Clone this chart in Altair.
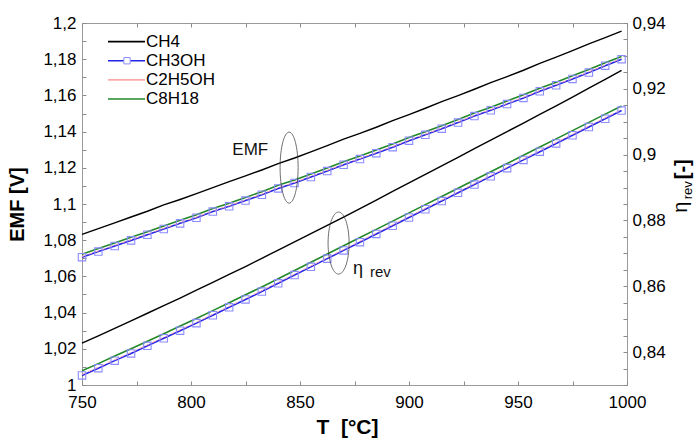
import altair as alt
import pandas as pd

# ---------------- data ----------------
T = [750.0, 757.5, 765.0, 772.5, 780.0, 787.5, 795.0, 802.5, 810.0, 817.5,
     825.0, 832.5, 840.0, 847.5, 855.0, 862.5, 870.0, 877.5, 885.0, 892.5,
     900.0, 907.5, 915.0, 922.5, 930.0, 937.5, 945.0, 952.5, 960.0, 967.5,
     975.0, 982.5, 990.0, 997.5]

EMF_CH4 = [1.0832, 1.0864, 1.0896, 1.0928, 1.0960, 1.0995, 1.1025, 1.1057, 1.1090, 1.1124,
           1.1155, 1.1188, 1.1223, 1.1254, 1.1288, 1.1322, 1.1358, 1.1390, 1.1424, 1.1461,
           1.1494, 1.1529, 1.1566, 1.1599, 1.1634, 1.1671, 1.1704, 1.1739, 1.1777, 1.1811,
           1.1847, 1.1885, 1.1919, 1.1955]
EMF_CH3OH = [1.0706, 1.0737, 1.0768, 1.0799, 1.0830, 1.0862, 1.0893, 1.0924, 1.0958, 1.0987,
             1.1019, 1.1051, 1.1086, 1.1116, 1.1149, 1.1182, 1.1217, 1.1248, 1.1281, 1.1314,
             1.1350, 1.1382, 1.1416, 1.1450, 1.1486, 1.1518, 1.1552, 1.1586, 1.1623, 1.1656,
             1.1691, 1.1726, 1.1764, 1.1800]
EMF_C2H5OH = [1.0710, 1.0741, 1.0772, 1.0803, 1.0834, 1.0866, 1.0897, 1.0928, 1.0962, 1.0991,
              1.1023, 1.1055, 1.1090, 1.1120, 1.1153, 1.1186, 1.1221, 1.1252, 1.1285, 1.1318,
              1.1354, 1.1386, 1.1420, 1.1454, 1.1490, 1.1522, 1.1556, 1.1590, 1.1627, 1.1660,
              1.1695, 1.1730, 1.1768, 1.1804]
EMF_C8H18 = [1.0723, 1.0754, 1.0785, 1.0816, 1.0847, 1.0879, 1.0910, 1.0941, 1.0975, 1.1004,
             1.1036, 1.1068, 1.1103, 1.1133, 1.1166, 1.1199, 1.1234, 1.1265, 1.1298, 1.1331,
             1.1367, 1.1399, 1.1433, 1.1467, 1.1503, 1.1535, 1.1569, 1.1603, 1.1640, 1.1673,
             1.1708, 1.1743, 1.1781, 1.1815]

ETA_CH4 = [0.8427, 0.8449, 0.8472, 0.8495, 0.8518, 0.8541, 0.8564, 0.8588, 0.8612, 0.8636,
           0.8660, 0.8685, 0.8710, 0.8735, 0.8760, 0.8785, 0.8810, 0.8836, 0.8862, 0.8888,
           0.8914, 0.8940, 0.8966, 0.8992, 0.9018, 0.9044, 0.9070, 0.9096, 0.9122, 0.9148,
           0.9175, 0.9202, 0.9229, 0.9256]
ETA_CH3OH = [0.8329, 0.8351, 0.8374, 0.8396, 0.8419, 0.8442, 0.8465, 0.8488, 0.8512, 0.8536,
             0.8560, 0.8584, 0.8609, 0.8634, 0.8659, 0.8684, 0.8709, 0.8734, 0.8759, 0.8784,
             0.8809, 0.8834, 0.8859, 0.8884, 0.8909, 0.8934, 0.8959, 0.8984, 0.9009, 0.9034,
             0.9059, 0.9084, 0.9109, 0.9134]
ETA_C2H5OH = [0.8332, 0.8354, 0.8377, 0.8399, 0.8422, 0.8445, 0.8468, 0.8491, 0.8515, 0.8539,
              0.8563, 0.8587, 0.8612, 0.8637, 0.8662, 0.8687, 0.8712, 0.8737, 0.8762, 0.8787,
              0.8812, 0.8837, 0.8862, 0.8887, 0.8912, 0.8937, 0.8962, 0.8987, 0.9012, 0.9037,
              0.9062, 0.9087, 0.9112, 0.9137]
ETA_C8H18 = [0.8343, 0.8365, 0.8388, 0.8410, 0.8433, 0.8456, 0.8479, 0.8502, 0.8526, 0.8550,
             0.8574, 0.8598, 0.8623, 0.8648, 0.8673, 0.8698, 0.8723, 0.8748, 0.8773, 0.8798,
             0.8823, 0.8848, 0.8873, 0.8898, 0.8923, 0.8948, 0.8973, 0.8998, 0.9023, 0.9048,
             0.9073, 0.9098, 0.9123, 0.9148]

SERIES = ["CH4", "CH3OH", "C2H5OH", "C8H18"]

X_TICKS = [750, 800, 850, 900, 950, 1000]
X_MINOR = [750, 775, 800, 825, 850, 875, 900, 925, 950, 975, 1000]
EMF_TICKS = [1.0, 1.02, 1.04, 1.06, 1.08, 1.1, 1.12, 1.14, 1.16, 1.18, 1.2]
EMF_MINOR = [1.0, 1.01, 1.02, 1.03, 1.04, 1.05, 1.06, 1.07, 1.08, 1.09, 1.1,
             1.11, 1.12, 1.13, 1.14, 1.15, 1.16, 1.17, 1.18, 1.19, 1.2]
ETA_TICKS = [0.84, 0.86, 0.88, 0.9, 0.92, 0.94]
ETA_MINOR = [0.83, 0.835, 0.84, 0.845, 0.85, 0.855, 0.86, 0.865, 0.87, 0.875, 0.88,
             0.885, 0.89, 0.895, 0.9, 0.905, 0.91, 0.915, 0.92, 0.925, 0.93, 0.935, 0.94]

# annotation anchors (data coordinates)
ELL_T = [845.0, 867.7]
ELL_V = [1.1201, 1.0784]

# ---------------- styling ----------------
W, H = 545, 362
FONT = "Liberation Sans"
BLACK = "#000000"
BLUE = "#2424e8"
PINK = "#ffaaaa"
GREEN = "#22882a"
MARKER = "#8c8cff"
TICK = "#8a8a8a"
COLORS = [BLACK, BLUE, PINK, GREEN]
COMMA = "replace(format(datum.value, '.2~f'), '.', ',')"

df = pd.DataFrame({
    "T": T,
    "emf_ch4": EMF_CH4, "emf_ch3oh": EMF_CH3OH, "emf_c2h5oh": EMF_C2H5OH, "emf_c8h18": EMF_C8H18,
    "eta_ch4": ETA_CH4, "eta_ch3oh": ETA_CH3OH, "eta_c2h5oh": ETA_C2H5OH, "eta_c8h18": ETA_C8H18,
})

XS = alt.Scale(domain=[750, 1000], nice=False, zero=False)
YS_EMF = alt.Scale(domain=[1.0, 1.2], nice=False, zero=False)
YS_ETA = alt.Scale(domain=[0.83, 0.94], nice=False, zero=False)

base = alt.Chart(df)

X_AXIS_MAIN = alt.Axis(orient="bottom", values=X_TICKS, format="d", ticks=False, tickSize=0,
                       domain=False, grid=False, labelFontSize=17, labelPadding=9,
                       labelFlush=False, labelOverlap=False, title="T\u00a0\u00a0[°C]",
                       titleFontSize=21, titleFontWeight="bold", titleX=265, titleY=48,
                       titleAlign="center", titleBaseline="alphabetic")
Y_AXIS_LEFT = alt.Axis(orient="left", values=EMF_TICKS, labelExpr=COMMA, ticks=False, tickSize=0,
                       domain=False, grid=False, labelFontSize=17, labelPadding=6,
                       labelOverlap=False, title="EMF [V]", titleFontSize=20,
                       titleFontWeight="bold", titleX=-65, titleY=181, titleAngle=270,
                       titleAlign="center", titleBaseline="middle")
Y_AXIS_RIGHT = alt.Axis(orient="right", values=ETA_TICKS, labelExpr=COMMA, ticks=False, tickSize=0,
                        domain=False, grid=False, labelFontSize=17, labelPadding=5,
                        labelOverlap=False, title=None)


def line(col, color, width, yscale, dash=None, xaxis=None, yaxis=None):
    kw = dict(color=color, strokeWidth=width)
    if dash:
        kw["strokeDash"] = dash
    return base.mark_line(**kw).encode(
        x=alt.X("T:Q", scale=XS, axis=xaxis),
        y=alt.Y(f"{col}:Q", scale=yscale, axis=yaxis),
    )


def markers(col, yscale):
    return base.mark_point(shape="square", size=55, filled=False, color=MARKER,
                           strokeWidth=1.1, opacity=1).encode(
        x=alt.X("T:Q", scale=XS, axis=None),
        y=alt.Y(f"{col}:Q", scale=yscale, axis=None),
    )


# inward ticks (bottom + left) and (top + right)
ticks1 = base.mark_point(opacity=0).encode(
    x=alt.X("T:Q", scale=XS, axis=alt.Axis(orient="top", offset=-H, values=X_MINOR, labels=False,
                                           domain=False, grid=False, tickSize=4, tickColor=TICK,
                                           title=None)),
    y=alt.Y("emf_ch4:Q", scale=YS_EMF, axis=alt.Axis(orient="right", offset=-W, values=EMF_MINOR,
                                                    labels=False, domain=False, grid=False,
                                                    tickSize=4, tickColor=TICK, title=None)),
)
ticks2 = base.mark_point(opacity=0).encode(
    x=alt.X("T:Q", scale=XS, axis=alt.Axis(orient="bottom", offset=-H, values=X_MINOR, labels=False,
                                           domain=False, grid=False, tickSize=4, tickColor=TICK,
                                           title=None)),
    y=alt.Y("eta_ch4:Q", scale=YS_ETA, axis=alt.Axis(orient="left", offset=-W, values=ETA_MINOR,
                                                    labels=False, domain=False, grid=False,
                                                    tickSize=4, tickColor=TICK, title=None)),
)

layers = [
    ticks1, ticks2,
    line("emf_ch4", BLACK, 1.4, YS_EMF, xaxis=X_AXIS_MAIN, yaxis=Y_AXIS_LEFT),
    line("emf_c8h18", GREEN, 1.6, YS_EMF),
    line("emf_ch3oh", BLUE, 1.6, YS_EMF),
    line("emf_c2h5oh", PINK, 1.0, YS_EMF, dash=[4, 3]),
    markers("emf_ch3oh", YS_EMF),
    line("eta_ch4", BLACK, 1.4, YS_ETA, yaxis=Y_AXIS_RIGHT),
    line("eta_c8h18", GREEN, 1.6, YS_ETA),
    line("eta_ch3oh", BLUE, 1.6, YS_ETA),
    line("eta_c2h5oh", PINK, 1.0, YS_ETA, dash=[4, 3]),
    markers("eta_ch3oh", YS_ETA),
]


# ellipses around the two groups
def ellipse_path(rx):
    k = 0.5523
    return (f"M {rx} 0 C {rx} {k} {k*rx:.4f} 1 0 1 C {-k*rx:.4f} 1 {-rx} {k} {-rx} 0 "
            f"C {-rx} {-k} {-k*rx:.4f} -1 0 -1 C {k*rx:.4f} -1 {rx} {-k} {rx} 0 Z")


for t, v, rx, sz in zip(ELL_T, ELL_V, [0.254, 0.339], [5041, 3844]):
    layers.append(
        alt.Chart(pd.DataFrame({"T": [t], "v": [v]})).mark_point(
            shape=ellipse_path(rx), size=sz, filled=False, color="#333333", strokeWidth=1
        ).encode(x=alt.X("T:Q", scale=XS, axis=None), y=alt.Y("v:Q", scale=YS_EMF, axis=None))
    )

# in-plot labels
ann = [("EMF", 827.2, 1.1270, "center", 17), ("η", 874.3, 1.0613, "left", 18),
       ("rev", 882.1, 1.0596, "left", 15)]
for txt, t, v, al, fs in ann:
    layers.append(
        alt.Chart(pd.DataFrame({"T": [t], "v": [v], "s": [txt]})).mark_text(
            align=al, baseline="alphabetic", fontSize=fs, font=FONT, color="#111111"
        ).encode(x=alt.X("T:Q", scale=XS, axis=None), y=alt.Y("v:Q", scale=YS_EMF, axis=None),
                 text="s:N")
    )

# right axis title  η rev [-]
one = pd.DataFrame({"a": [0]})
for txt, px, py, fs, fw in [("[-]", 607, 146.3, 20, "bold"), ("rev", 610, 167.3, 13, "normal"),
                            ("η", 605, 184.3, 20, "normal")]:
    layers.append(
        alt.Chart(one).mark_text(angle=270, align="center", baseline="alphabetic", fontSize=fs,
                                 fontWeight=fw, font=FONT, color="#000000").encode(
            x=alt.value(px), y=alt.value(py), text=alt.value(txt))
    )

# legend
leg = pd.DataFrame({"name": SERIES, "row": [0, 1, 2, 3]})
LEG_Y = alt.Y("row:Q", scale=alt.Scale(domain=[0, 3], range=[18.6, 76.0]), axis=None)
LEG_C = alt.Color("name:N", scale=alt.Scale(domain=SERIES, range=COLORS), legend=None)
leg_base = alt.Chart(leg)
layers.append(leg_base.mark_rule(strokeWidth=1.6).encode(
    x=alt.value(26), x2=alt.value(63), y=LEG_Y, color=LEG_C))
layers.append(leg_base.transform_filter(alt.datum.name == "CH3OH").mark_point(
    shape="square", size=40, filled=True, fill="white", stroke=MARKER, strokeWidth=1, opacity=1
).encode(x=alt.value(45), y=LEG_Y))
layers.append(leg_base.mark_text(align="left", baseline="middle", fontSize=17, font=FONT,
                                 color="#000000").encode(
    x=alt.value(64), y=LEG_Y, text="name:N"))

chart = alt.layer(*layers).resolve_scale(
    x="independent", y="independent", color="independent"
).properties(
    width=W, height=H,
    autosize=alt.AutoSizeParams(type="none"),
    padding={"left": 82, "top": 23, "right": 69, "bottom": 55},
    background="white",
).configure_view(
    stroke="#9a9a9a", strokeWidth=1
).configure_axis(
    labelFont=FONT, titleFont=FONT, labelColor="#000000", titleColor="#000000", grid=False
).configure_text(font=FONT)

chart.save("out.html", embed_options={"renderer": "svg", "actions": False})
